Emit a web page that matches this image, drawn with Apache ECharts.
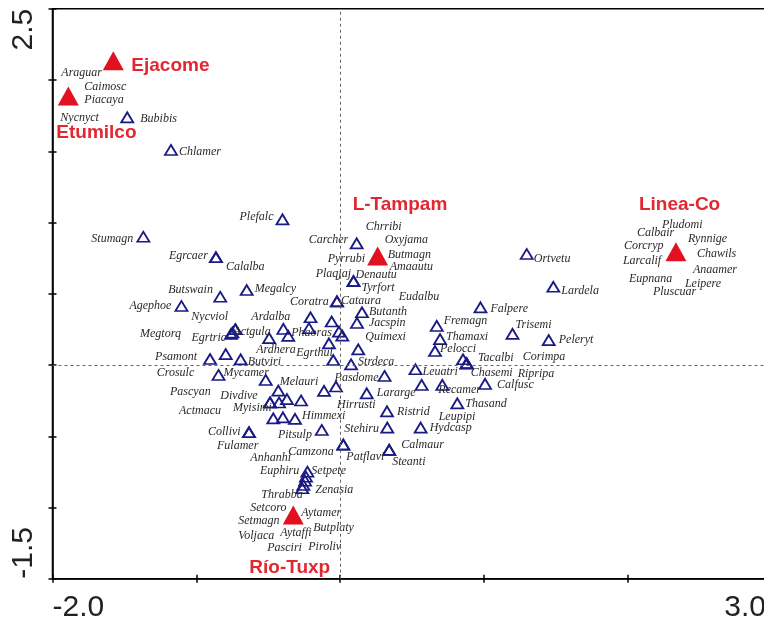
<!DOCTYPE html>
<html>
<head>
<meta charset="utf-8">
<script src="https://cdn.jsdelivr.net/npm/echarts@6/dist/echarts.min.js"></script>
<style>
  html, body { margin: 0; padding: 0; background: #fff; }
  #main { width: 764px; height: 623px; }
</style>
</head>
<body>
<div id="main"></div>
<script>
// environment centroids (red triangles)
const siteNames = ['Ejacome', 'Etumilco', 'L-Tampam', 'Linea-Co', 'Río-Tuxp'];
const siteX = [-1.577, -1.890, 0.262, 2.337, -0.325];
const siteY = [2.135, 1.888, 0.765, 0.795, -1.053];

// species scores (blue open triangles); '' = unlabelled point
const speciesNames = [
  'Bubibis', 'Chlamer', 'Plefalc', 'Stumagn', 'Egrcaer', 'Calalba', 'Butswain', 'Megalcy', 'Agephoe',
  'Carcher', 'Denautu', 'Tyrfort', 'Cataura', 'Coratra', 'Butanth', 'Jacspin', 'Quimexi', 'Strdeca',
  'Ortvetu', 'Lardela', 'Falpere', 'Fremagn', 'Thamaxi', 'Pelocci', 'Tacalbi', 'Chasemi', 'Corimpa',
  'Ripripa', 'Trisemi', 'Peleryt', 'Leuatri', 'Pasdome', 'Leupipi', 'Recamer', 'Calfusc', 'Thasand',
  'Ristrid', 'Lararge', 'Hydcasp', 'Stehiru', 'Calmaur', 'Steanti', 'Camzona', 'Patflavi', 'Hirrusti',
  '', 'Melauri', 'Mycamer', 'Psamont', 'Crosulc', 'Butviri', 'Nycviol', 'Egrtric', 'Megtorq',
  'Actgula', 'Ardhera', 'Ardalba', 'Phaoras', '', '', '', '', '', '',
  'Egrthul', 'Divdive', '', '', 'Actmacu', 'Pascyan', 'Myisimi', 'Anhanhi', 'Pitsulp',
  'Himmexi', '', 'Collivi', 'Fulamer', 'Setpete', 'Euphiru', '', 'Zenasia', 'Thrabba',
  // species sitting on the centroids
  'Araguar', 'Caimosc', 'Piacaya', 'Nycnyct',
  'Chrribi', 'Oxyjama', 'Pyrrubi', 'Butmagn', 'Amaautu', 'Plaqjaj', 'Eudalbu',
  'Pludomi', 'Calbair', 'Rynnige', 'Corcryp', 'Chawils', 'Larcalif', 'Anaamer', 'Eupnana', 'Leipere', 'Pluscuar',
  'Setcoro', 'Aytamer', 'Setmagn', 'Butplaty', 'Voljaca', 'Aytaffi', 'Pasciri', 'Piroliv'
];
const speciesX = [
  -1.480, -1.176, -0.400, -1.368, -0.863, -0.863, -0.833, -0.649, -1.103,
  0.116, 0.094, 0.094, -0.021, -0.021, 0.153, 0.118, 0.127, 0.077,
  1.299, 1.484, 0.977, 0.673, 0.696, 0.661, 0.856, 0.881, 0.881,
  0.881, 1.200, 1.452, 0.525, 0.310, 0.568, 0.712, 1.009, 0.816,
  0.327, 0.186, 0.561, 0.329, 0.342, 0.342, 0.023, 0.023, -0.028,
  -0.111, -0.517, -0.845, -0.904, -0.795, -0.691, -0.728, -0.748, -0.758,
  -0.728, -0.493, -0.394, -0.360, -0.205, -0.058, -0.216, -0.007, 0.016, -0.077,
  -0.047, -0.429, -0.369, -0.271, -0.487, -0.487, -0.424, -0.464, -0.397,
  -0.313, -0.127, -0.633, -0.633, -0.227, -0.237, -0.243, -0.255, -0.262,
  -1.890, -1.890, -1.890, -1.890,
  0.262, 0.262, 0.262, 0.262, 0.262, 0.262, 0.262,
  2.337, 2.337, 2.337, 2.337, 2.337, 2.337, 2.337, 2.337, 2.337, 2.337,
  -0.325, -0.325, -0.325, -0.325, -0.325, -0.325, -0.325, -0.325
];
const speciesY = [
  1.738, 1.509, 1.022, 0.900, 0.756, 0.756, 0.479, 0.526, 0.414,
  0.854, 0.589, 0.589, 0.446, 0.446, 0.370, 0.295, 0.110, 0.004,
  0.779, 0.549, 0.404, 0.274, 0.182, 0.098, 0.040, 0.011, 0.011,
  0.011, 0.218, 0.175, -0.030, -0.077, -0.140, -0.140, -0.133, -0.269,
  -0.325, -0.199, -0.439, -0.439, -0.596, -0.596, -0.559, -0.559, -0.151,
  -0.182, -0.105, -0.070, 0.042, 0.076, 0.039, 0.251, 0.228, 0.218,
  0.251, 0.189, 0.253, 0.204, 0.335, 0.305, 0.258, 0.234, 0.206, 0.152,
  0.035, -0.180, -0.239, -0.249, -0.263, -0.263, -0.263, -0.375, -0.368,
  -0.378, -0.456, -0.472, -0.472, -0.749, -0.784, -0.812, -0.842, -0.865,
  1.888, 1.888, 1.888, 1.888,
  0.765, 0.765, 0.765, 0.765, 0.765, 0.765, 0.765,
  0.795, 0.795, 0.795, 0.795, 0.795, 0.795, 0.795, 0.795, 0.795, 0.795,
  -1.053, -1.053, -1.053, -1.053, -1.053, -1.053, -1.053, -1.053
];

// axis tick labels
const xTickValues = [-2, 3];
const xTickLabels = ['-2.0', '3.0'];
const yTickValues = [2.5, -1.5];
const yTickLabels = ['2.5', '-1.5'];

// label placement (px, from the point centre to the left/middle of the text)
const siteLabelOffset = [[18, 5], [-12, 37], [-25, -51], [-37, -47], [-44, 53]];
const speciesLabelOffset = [
  [13, 2], [8, 2], [-43, -3], [-52, 2], [-47, -1], [10, 10], [-52, -7], [8, -1], [-52, 0],
  [-48, -3], [2, -6], [8, 7], [4, -1], [-47, 0], [7, 0], [12, 0], [7, -12], [7, -3],
  [7, 5], [8, 4], [10, 1], [7, -5], [6, -2], [5, -2], [15, -1], [4, 9], [56, -7],
  [51, 10], [3, -9], [10, 0], [7, 3], [-50, 2], [17, 32], [-4, 5], [12, 1], [8, 1],
  [10, 1], [10, -1], [9, 0], [-43, 1], [12, -5], [3, 12], [-55, 7], [3, 12], [1, 18],
  [0, 0], [14, 2], [5, -2], [-55, -2], [-69, 19], [7, 2], [-44, -12], [-41, 5], [-91, 0],
  [-2, 3], [-13, 12], [-32, -12], [3, -3], [0, 0], [0, 0], [0, 0], [0, 0], [0, 0], [0, 0],
  [-37, -7], [-58, 5], [0, 0], [0, 0], [-91, 8], [-100, -11], [-46, 5], [-23, 39], [-5, 17],
  [7, -3], [0, 0], [-41, 0], [-32, 14], [4, -1], [-46, -6], [0, 0], [12, 5], [-41, 7],
  [-7, -23], [16, -9], [16, 4], [-8, 22],
  [-12, -29], [7, -16], [-50, 3], [10, -1], [12, 11], [-62, 18], [21, 41],
  [-14, -27], [-39, -19], [12, -13], [-52, -6], [21, 2], [-53, 9], [17, 18], [-47, 27], [9, 32], [-23, 40],
  [-43, -7], [8, -2], [-55, 6], [20, 13], [-55, 21], [-13, 18], [-26, 33], [15, 32]
];

const speciesData = speciesNames.map((n, i) => ({
  name: n,
  value: [speciesX[i], speciesY[i]],
  label: { offset: speciesLabelOffset[i] }
}));
const siteData = siteNames.map((n, i) => ({
  name: n,
  value: [siteX[i], siteY[i]],
  label: { offset: siteLabelOffset[i] }
}));

const chart = echarts.init(document.getElementById('main'));

const baseX = { type: 'value', min: -2, max: 3, interval: 1, position: 'bottom',
  axisLabel: { show: false }, splitLine: { show: false } };
const baseY = { type: 'value', min: -1.5, max: 2.5, interval: 0.5, position: 'left',
  axisLabel: { show: false }, splitLine: { show: false } };

chart.setOption({
  animation: false,
  // plot frame runs past the right edge of the picture (x = 3.0 sits off-canvas)
  grid: { left: 52.5, top: 8.75, width: 718.75, height: 570, show: true,
    outerBoundsMode: 'none', containLabel: false,
    borderColor: '#000', borderWidth: 1.5, backgroundColor: 'transparent' },
  xAxis: [
    Object.assign({}, baseX, {
      axisLine: { onZero: false, lineStyle: { color: '#000', width: 1.5 } },
      axisTick: { length: 4, lineStyle: { color: '#000', width: 1.5 } }
    }),
    Object.assign({}, baseX, {
      axisLine: { show: false, onZero: false },
      axisTick: { inside: true, length: 4, lineStyle: { color: '#000', width: 1.5 } }
    })
  ],
  yAxis: [
    Object.assign({}, baseY, {
      axisLine: { onZero: false, lineStyle: { color: '#000', width: 1.5 } },
      axisTick: { length: 4, lineStyle: { color: '#000', width: 1.5 } }
    }),
    Object.assign({}, baseY, {
      axisLine: { show: false, onZero: false },
      axisTick: { inside: true, length: 4, lineStyle: { color: '#000', width: 1.5 } }
    })
  ],
  series: [
    {
      name: 'species',
      type: 'scatter',
      symbol: 'triangle',
      symbolSize: [12, 10],
      itemStyle: { color: 'transparent', borderColor: '#1a1a85', borderWidth: 1.8, opacity: 1 },
      label: {
        show: true, position: 'inside', align: 'left', verticalAlign: 'middle',
        formatter: '{b}', fontFamily: '"Liberation Serif", "Times New Roman", serif',
        fontStyle: 'italic', fontSize: 12, color: '#2a2a2a', textBorderWidth: 0
      },
      data: speciesData,
      markLine: {
        silent: true, symbol: ['none', 'none'], label: { show: false },
        lineStyle: { type: [3, 3], color: '#666', width: 1 },
        data: [{ xAxis: 0 }, { yAxis: 0 }]
      }
    },
    {
      name: 'sites',
      type: 'scatter',
      symbol: 'triangle',
      symbolSize: [21, 19],
      z: 5,
      itemStyle: { color: '#e3101f', opacity: 1 },
      label: {
        show: true, position: 'inside', align: 'left', verticalAlign: 'middle',
        formatter: '{b}', fontFamily: '"Liberation Sans", Arial, sans-serif',
        fontWeight: 'bold', fontSize: 19, color: '#e32630', textBorderWidth: 0
      },
      data: siteData
    }
  ]
});

// min / max tick labels, placed from the axes
const tickFont = { fontFamily: '"Liberation Sans", Arial, sans-serif', fontSize: 30, fill: '#222' };
const graphics = [];
xTickValues.forEach((v, i) => {
  const px = chart.convertToPixel({ xAxisIndex: 0 }, v);
  const py = chart.convertToPixel({ yAxisIndex: 0 }, -1.5);
  graphics.push({
    type: 'text', x: i === 0 ? px : Math.min(px - 4, 766), y: py + 29,
    style: Object.assign({ text: xTickLabels[i], align: i === 0 ? 'left' : 'right', verticalAlign: 'middle' }, tickFont)
  });
});
yTickValues.forEach((v, i) => {
  const py = chart.convertToPixel({ yAxisIndex: 0 }, v);
  const px = chart.convertToPixel({ xAxisIndex: 0 }, -2);
  graphics.push({
    type: 'text', x: px - 29, y: py, rotation: Math.PI / 2,
    style: Object.assign({ text: yTickLabels[i], align: i === 0 ? 'right' : 'left', verticalAlign: 'middle' }, tickFont)
  });
});
chart.setOption({ graphic: graphics });
</script>
</body>
</html>
